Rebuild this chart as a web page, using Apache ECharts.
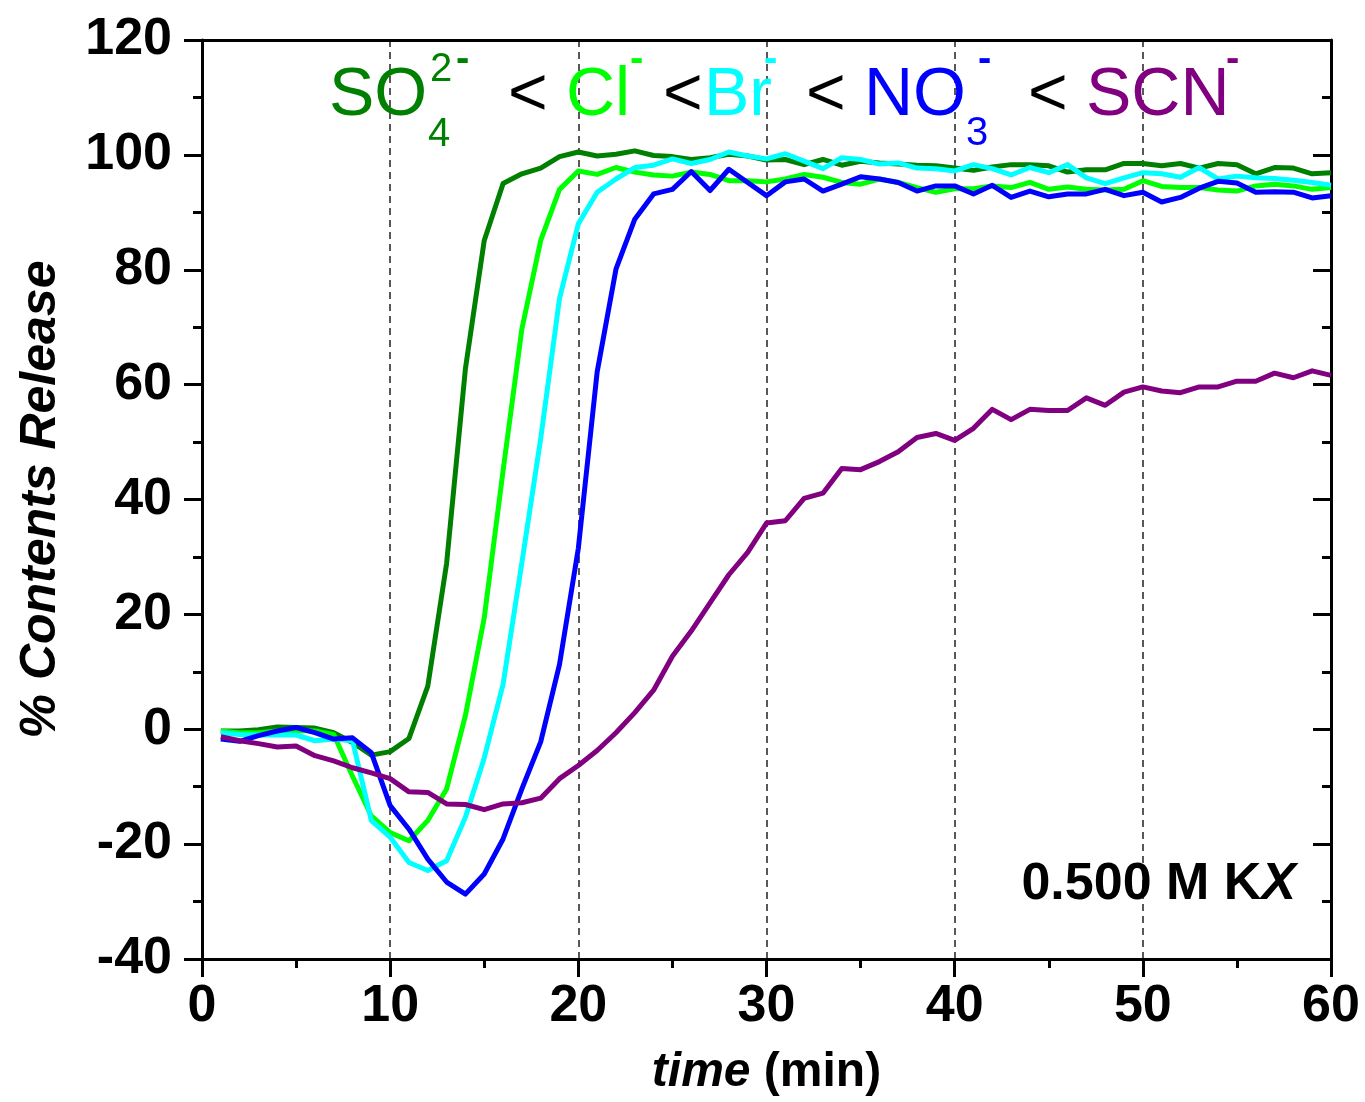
<!DOCTYPE html>
<html>
<head>
<meta charset="utf-8">
<script src="https://cdn.jsdelivr.net/npm/echarts@6/dist/echarts.min.js"></script>
<style>html,body{margin:0;padding:0;background:#fff}#c{width:1365px;height:1102px}</style>
</head>
<body>
<div id="c"></div>
<script>
// ---- data ----
const time = [1,2,3,4,5,6,7,8,9,10,11,12,13,14,15,16,17,18,19,20,
  21,22,23,24,25,26,27,28,29,30,31,32,33,34,35,36,37,38,39,40,
  41,42,43,44,45,46,47,48,49,50,51,52,53,54,55,56,57,58,59,60];

const so4 = [-0.3,-0.3,-0.1,0.4,0.3,0.2,-0.6,-2.3,-4.5,-3.9,
  -1.6,7.5,28.9,62.8,85.1,95.0,96.7,97.7,99.7,100.5,
  99.8,100.1,100.7,99.9,99.7,99.2,99.5,100.1,99.8,99.1,
  99.2,98.3,99.2,98.2,98.9,98.6,98.4,98.2,98.1,97.7,
  97.3,97.9,98.3,98.3,98.1,97.0,97.4,97.4,98.5,98.5,
  98.1,98.5,97.7,98.5,98.3,96.7,97.8,97.7,96.7,96.9];

const cl = [-0.3,-0.6,-0.6,-0.3,-0.2,-0.3,-0.9,-8.2,-15.1,-18.0,
  -19.4,-15.9,-10.4,2.4,19.4,45.0,69.7,85.1,94.0,97.2,
  96.6,97.8,97.0,96.5,96.3,97.0,96.6,95.5,95.5,95.3,
  95.8,96.6,96.1,95.2,94.9,95.8,95.2,94.3,93.5,94.1,
  94.1,94.6,94.3,95.2,94.0,94.4,94.0,93.9,94.0,95.5,
  94.5,94.3,94.3,93.9,93.7,94.6,94.9,94.6,94.0,94.3];

const br = [-0.6,-0.9,-1.0,-1.0,-1.0,-2.0,-1.7,-2.0,-15.9,-18.8,
  -23.2,-24.6,-22.9,-15.3,-5.0,7.8,29.0,50.6,75.0,88.0,
  93.5,95.8,97.8,98.2,99.3,98.5,99.2,100.5,99.8,99.3,
  100.2,98.9,97.6,99.5,99.2,98.4,98.6,97.7,97.6,97.2,
  98.3,97.6,96.5,97.8,96.9,98.3,96.0,95.0,96.0,96.9,
  96.7,96.1,97.8,95.8,96.3,96.0,95.9,95.6,95.2,94.7];

const no3 = [-1.7,-2.1,-1.1,-0.3,0.3,-0.6,-1.7,-1.5,-4.1,-13.3,
  -17.4,-22.6,-26.6,-28.7,-25.2,-19.1,-10.4,-2.2,11.3,31.5,
  62.2,80.1,88.8,93.2,94.0,97.1,93.8,97.5,95.2,92.9,
  95.3,95.8,93.7,94.9,96.2,95.8,95.2,93.7,94.6,94.6,
  93.2,94.7,92.6,93.7,92.7,93.2,93.2,94.0,92.9,93.5,
  91.8,92.6,94.2,95.4,95.1,93.5,93.6,93.5,92.5,92.9];

const scn = [-1.3,-2.0,-2.5,-3.1,-2.9,-4.6,-5.5,-6.7,-7.6,-8.6,
  -10.9,-11.0,-13.0,-13.1,-14.0,-13.0,-12.8,-12.0,-8.6,-6.3,
  -3.7,-0.6,2.9,6.8,12.7,17.1,22.0,26.9,30.8,35.9,
  36.3,40.2,41.1,45.4,45.2,46.6,48.3,50.8,51.5,50.3,
  52.4,55.7,53.9,55.7,55.5,55.5,57.7,56.4,58.7,59.6,
  58.9,58.6,59.6,59.6,60.6,60.6,62.0,61.2,62.4,61.6];

const seriesNames = ['SO4', 'Cl', 'Br', 'NO3', 'SCN'];
const seriesColors = ['#008000', '#00ff00', '#00ffff', '#0000ff', '#800080'];
const seriesValues = [so4, cl, br, no3, scn];

const xTicks = { min: 0, max: 60, step: 10 };
const yTicks = { min: -40, max: 120, step: 20 };

// ---- chart ----
const FONT = "'Liberation Sans', Arial, sans-serif";
const chart = echarts.init(document.getElementById('c'), null, { renderer: 'canvas' });

const series = seriesValues.map((vals, i) => ({
  name: seriesNames[i],
  type: 'line',
  xAxisIndex: 0, yAxisIndex: 0,
  showSymbol: false,
  smooth: false,
  animation: false,
  lineStyle: { color: seriesColors[i], width: 5, join: 'round' },
  itemStyle: { color: seriesColors[i] },
  z: 3 + i,
  data: time.map((t, k) => [t, vals[k]])
}));

function t(text, x, y, size, color, weight) {
  return {
    type: 'text', x: x, y: y, z: 20,
    style: {
      text: text, fill: color, font: (weight || 'normal') + ' ' + size + 'px ' + FONT,
      textAlign: 'left', textVerticalAlign: 'middle'
    }
  };
}

const titleSize = 68, subSize = 40;
const graphic = [
  t('SO', 329, 96, titleSize, '#008000'),
  t('4', 428, 135, subSize, '#008000'),
  t('2', 430, 70, subSize, '#008000'),
  t('-', 456, 60, subSize, '#008000', 'bold'),
  t('<', 508, 96, titleSize, '#000000'),
  t('Cl', 566, 96, titleSize, '#00ff00'),
  t('-', 630, 60, subSize, '#00ff00', 'bold'),
  t('<', 663, 96, titleSize, '#000000'),
  t('Br', 704, 96, titleSize, '#00ffff'),
  t('-', 764, 60, subSize, '#00ffff', 'bold'),
  t('<', 806, 96, titleSize, '#000000'),
  t('NO', 864, 96, titleSize, '#0000ff'),
  t('3', 966, 134, subSize, '#0000ff'),
  t('-', 978, 60, subSize, '#0000ff', 'bold'),
  t('<', 1028, 96, titleSize, '#000000'),
  t('SCN', 1086, 96, titleSize, '#800080'),
  t('-', 1226, 60, subSize, '#800080', 'bold'),
  {
    type: 'text', x: 1296, y: 885, z: 20,
    style: {
      text: '{a|0.500 M K}{b|X}',
      textAlign: 'right', textVerticalAlign: 'middle',
      rich: {
        a: { fontFamily: FONT, fontWeight: 'bold', fontSize: 52, fill: '#000', color: '#000' },
        b: { fontFamily: FONT, fontWeight: 'bold', fontStyle: 'italic', fontSize: 52, fill: '#000', color: '#000' }
      }
    }
  }
];

const axisLineStyle = { color: '#000', width: 3 };

chart.setOption({
  animation: false,
  backgroundColor: '#ffffff',
  grid: { left: 202, right: 34, top: 40, bottom: 139, containLabel: false },
  xAxis: [{
    type: 'value', position: 'bottom',
    min: xTicks.min, max: xTicks.max, interval: xTicks.step,
    name: '{i|time}{n| (min)}',
    nameLocation: 'middle', nameGap: 90,
    nameTextStyle: {
      rich: {
        i: { fontFamily: FONT, fontWeight: 'bold', fontStyle: 'italic', fontSize: 48, color: '#000' },
        n: { fontFamily: FONT, fontWeight: 'bold', fontSize: 48, color: '#000' }
      }
    },
    axisLine: { show: true, lineStyle: axisLineStyle, onZero: false },
    axisTick: { show: true, inside: false, length: 18, lineStyle: { color: '#000', width: 3 } },
    minorTick: { show: true, splitNumber: 2, length: 9, lineStyle: { color: '#000', width: 3 } },
    axisLabel: { fontFamily: FONT, fontWeight: 'bold', fontSize: 52, color: '#000', margin: 22 },
    splitLine: {
      show: true,
      lineStyle: { color: '#222', width: 1.5, type: [7, 5] },
      showMinLine: false, showMaxLine: false
    },
    minorSplitLine: { show: false }
  }, {
    type: 'value', position: 'top',
    min: xTicks.min, max: xTicks.max, interval: xTicks.step,
    axisLine: { show: true, lineStyle: axisLineStyle, onZero: false },
    axisTick: { show: false },
    axisLabel: { show: false },
    splitLine: { show: false }
  }],
  yAxis: [{
    type: 'value', position: 'left',
    min: yTicks.min, max: yTicks.max, interval: yTicks.step,
    name: '% Contents Release',
    nameLocation: 'middle', nameGap: 136, nameRotate: 90,
    nameTextStyle: { fontFamily: FONT, fontWeight: 'bold', fontStyle: 'italic', fontSize: 50, color: '#000' },
    axisLine: { show: true, lineStyle: axisLineStyle, onZero: false },
    axisTick: { show: true, inside: false, length: 18, lineStyle: { color: '#000', width: 3 } },
    minorTick: { show: true, splitNumber: 2, length: 9, lineStyle: { color: '#000', width: 3 } },
    axisLabel: { fontFamily: FONT, fontWeight: 'bold', fontSize: 52, color: '#000', margin: 30 },
    splitLine: { show: false }
  }, {
    type: 'value', position: 'right',
    min: yTicks.min, max: yTicks.max, interval: yTicks.step,
    axisLine: { show: true, lineStyle: axisLineStyle, onZero: false },
    axisTick: { show: true, inside: true, length: 18, lineStyle: { color: '#000', width: 3 } },
    minorTick: { show: true, splitNumber: 2, length: 9, lineStyle: { color: '#000', width: 3 } },
    axisLabel: { show: false },
    splitLine: { show: false }
  }],
  series: series,
  graphic: graphic
});
</script>
</body>
</html>
